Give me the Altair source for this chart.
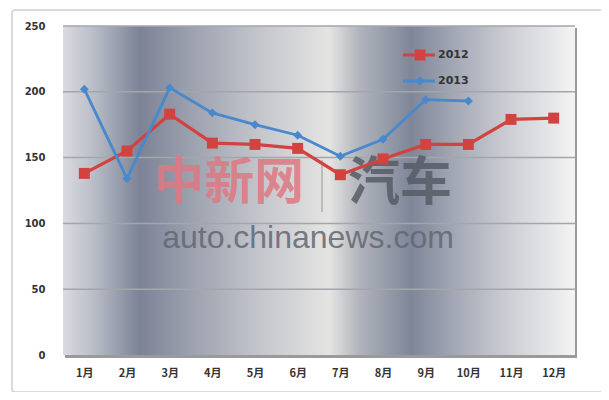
import altair as alt
import pandas as pd

months = ["1月", "2月", "3月", "4月", "5月", "6月", "7月", "8月", "9月", "10月", "11月", "12月"]
series_2012 = [138, 155, 183, 161, 160, 157, 137, 149, 160, 160, 179, 180]
series_2013 = [202, 134, 203, 184, 175, 167, 151, 164, 194, 193]
y_ticks = [0, 50, 100, 150, 200, 250]
series_names = ["2012", "2013"]
series_colors = ["#d2423e", "#4a88cc"]

W, H = 512, 329

rows = []
for m, v in zip(months, series_2012):
    rows.append({"month": m, "value": v, "series": "2012"})
for m, v in zip(months, series_2013):
    rows.append({"month": m, "value": v, "series": "2013"})
df = pd.DataFrame(rows)
grid_df = pd.DataFrame({"v": y_ticks[1:]})

xscale = alt.Scale(type="point", domain=months, padding=0.5)
yscale = alt.Scale(domain=[0, 250], nice=False, zero=True)

x_enc = alt.X("month:N", scale=xscale, sort=months,
              axis=alt.Axis(title=None, labelAngle=0, domain=False, ticks=False, zindex=1,
                            labelFont="Noto Sans CJK SC", labelFontSize=11, labelFontWeight="bold",
                            labelColor="#333333", labelPadding=12))
y_enc = alt.Y("value:Q", scale=yscale,
              axis=alt.Axis(title=None, values=y_ticks, grid=False, domain=False, ticks=False, zindex=1,
                            labelFont="DejaVu Sans", labelFontSize=10, labelFontWeight="bold",
                            labelColor="#333333", labelPadding=18))

# outer frame
frame = alt.Chart(pd.DataFrame({"a": [0]})).mark_rect(
    fill="white", stroke="#cfcfcf", strokeWidth=1.5, cornerRadius=3
).encode(x=alt.value(-51), x2=alt.value(540), y=alt.value(-16), y2=alt.value(366))

shadow = alt.Chart(pd.DataFrame({"a": [0]})).mark_rect(fill="#9a9a9a").encode(
    x=alt.value(2), x2=alt.value(W + 2), y=alt.value(2), y2=alt.value(H + 3))

bg = alt.Chart(pd.DataFrame({"a": [0]})).mark_rect(
    color=alt.Gradient(
        gradient="linear", x1=0, x2=1, y1=0, y2=0,
        stops=[
            alt.GradientStop(offset=0.0, color="#dadbe0"),
            alt.GradientStop(offset=0.06, color="#b9bdc7"),
            alt.GradientStop(offset=0.15, color="#7c8396"),
            alt.GradientStop(offset=0.25, color="#9ca1ae"),
            alt.GradientStop(offset=0.385, color="#c4c6cc"),
            alt.GradientStop(offset=0.52, color="#e4e4e2"),
            alt.GradientStop(offset=0.58, color="#b0b3bc"),
            alt.GradientStop(offset=0.68, color="#7e8698"),
            alt.GradientStop(offset=0.775, color="#a8acb8"),
            alt.GradientStop(offset=0.873, color="#cdcfd4"),
            alt.GradientStop(offset=1.0, color="#f4f4f4"),
        ],
    )
).encode(x=alt.value(0), x2=alt.value(W), y=alt.value(0), y2=alt.value(H))

grid = alt.Chart(grid_df).mark_rule(color="#a4a6ac", strokeWidth=1.5).encode(
    y=alt.Y("v:Q", scale=yscale), x=alt.value(0), x2=alt.value(W))

# watermark
wm1 = alt.Chart(pd.DataFrame({"t": ["中新网"]})).mark_text(
    font="Noto Sans CJK SC", fontSize=50, fontWeight="bold", color="#e07882", opacity=0.85,
    align="center", baseline="middle"
).encode(text="t:N", x=alt.value(166), y=alt.value(158))
wm_sep = alt.Chart(pd.DataFrame({"a": [0]})).mark_rule(color="#777777", strokeWidth=1, opacity=0.7).encode(
    x=alt.value(259), y=alt.value(134), y2=alt.value(186))
wm2 = alt.Chart(pd.DataFrame({"t": ["汽车"]})).mark_text(
    font="Noto Sans CJK SC", fontSize=52, fontWeight="bold", color="#575c66", opacity=0.85,
    align="center", baseline="middle"
).encode(text="t:N", x=alt.value(337), y=alt.value(158))
wm3 = alt.Chart(pd.DataFrame({"t": ["auto.chinanews.com"]})).mark_text(
    font="Liberation Sans", fontSize=32, color="#646873", opacity=0.85,
    align="center", baseline="middle"
).encode(text="t:N", x=alt.value(245), y=alt.value(212))

color_scale = alt.Scale(domain=series_names, range=series_colors)

lines = alt.Chart(df).mark_line().encode(
    x=x_enc, y=y_enc,
    color=alt.Color("series:N", scale=color_scale, legend=None),
    strokeWidth=alt.StrokeWidth("series:N", scale=alt.Scale(domain=series_names, range=[3.2, 2.8]), legend=None),
)
points = alt.Chart(df).mark_point(filled=True, opacity=1).encode(
    x=alt.X("month:N", scale=xscale, sort=months),
    y=alt.Y("value:Q", scale=yscale),
    color=alt.Color("series:N", scale=color_scale, legend=None),
    shape=alt.Shape("series:N", scale=alt.Scale(domain=series_names, range=["square", "diamond"]), legend=None),
    size=alt.Size("series:N", scale=alt.Scale(domain=series_names, range=[120, 80]), legend=None),
)

# custom legend inside the plot
leg_df = pd.DataFrame({"series": series_names, "ly": [29, 55]})
leg_line = alt.Chart(leg_df).mark_rule(strokeWidth=3).encode(
    x=alt.value(340), x2=alt.value(372), y=alt.Y("ly:Q", scale=None),
    color=alt.Color("series:N", scale=color_scale, legend=None))
leg_pt = alt.Chart(leg_df).mark_point(filled=True, opacity=1).encode(
    x=alt.value(357), y=alt.Y("ly:Q", scale=None),
    color=alt.Color("series:N", scale=color_scale, legend=None),
    shape=alt.Shape("series:N", scale=alt.Scale(domain=series_names, range=["square", "diamond"]), legend=None),
    size=alt.Size("series:N", scale=alt.Scale(domain=series_names, range=[70, 45]), legend=None))
leg_txt = alt.Chart(leg_df).mark_text(
    font="DejaVu Sans", fontSize=11, fontWeight="bold", color="#333333", align="left", baseline="middle"
).encode(x=alt.value(375), y=alt.Y("ly:Q", scale=None), text="series:N")

chart = alt.layer(
    frame, shadow, bg, grid, wm1, wm_sep, wm2, wm3, lines, points, leg_line, leg_pt, leg_txt
).resolve_scale(y="shared").properties(
    width=W, height=H,
    autosize=alt.AutoSizeParams(type="none"),
    padding={"left": 55, "top": 18, "right": 26, "bottom": 37},
).configure_view(stroke=None).configure(background="white")

chart.save("out.html", embed_options={"renderer": "svg", "actions": False})
